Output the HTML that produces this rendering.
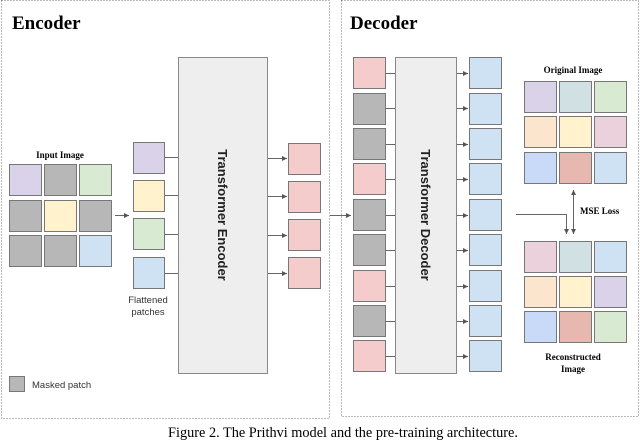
<!DOCTYPE html>
<html><head><meta charset="utf-8"><style>
html,body{margin:0;padding:0;background:#fff;width:640px;height:440px;overflow:hidden}
svg{display:block}
.s{font-family:"Liberation Serif",serif}
.a{font-family:"Liberation Sans",sans-serif}
</style></head><body>
<svg width="640" height="440" viewBox="0 0 640 440" xmlns="http://www.w3.org/2000/svg">
<defs><marker id="ar" markerWidth="6" markerHeight="6" refX="5" refY="3" orient="auto"><path d="M0,0.5 L5,3 L0,5.5z" fill="#555"/></marker></defs>
<rect x="1.5" y="0.5" width="328" height="418" fill="none" stroke="#777" stroke-dasharray="1,2"/>
<rect x="341.5" y="0.5" width="297" height="416" fill="none" stroke="#777" stroke-dasharray="1,2"/>
<text x="12" y="29" class="s" font-size="19" font-weight="bold">Encoder</text>
<text x="350" y="29" class="s" font-size="19" font-weight="bold">Decoder</text>
<g stroke="#888" stroke-width="1">
<rect x="178.5" y="57.5" width="89" height="316" fill="#eee"/>
<rect x="395.5" y="57.5" width="61" height="316" fill="#eee"/>
</g>
<text transform="translate(218,215) rotate(90)" text-anchor="middle" class="a" font-size="13" font-weight="bold" fill="#222">Transformer Encoder</text>
<text transform="translate(421,215) rotate(90)" text-anchor="middle" class="a" font-size="13" font-weight="bold" fill="#222">Transformer Decoder</text>
<text x="60" y="158" text-anchor="middle" class="s" font-size="9" font-weight="bold">Input Image</text>
<g stroke="#777" stroke-width="1">
<rect x="9.5" y="164.5" width="32" height="31" fill="#d9d2e9"/>
<rect x="44.5" y="164.5" width="32" height="31" fill="#b7b7b7"/>
<rect x="79.5" y="164.5" width="32" height="31" fill="#d9ead3"/>
<rect x="9.5" y="200.5" width="32" height="31" fill="#b7b7b7"/>
<rect x="44.5" y="200.5" width="32" height="31" fill="#fff2cc"/>
<rect x="79.5" y="200.5" width="32" height="31" fill="#b7b7b7"/>
<rect x="9.5" y="235.5" width="32" height="31" fill="#b7b7b7"/>
<rect x="44.5" y="235.5" width="32" height="31" fill="#b7b7b7"/>
<rect x="79.5" y="235.5" width="32" height="31" fill="#cfe2f3"/>
<rect x="133.5" y="142.5" width="31" height="31" fill="#d9d2e9"/>
<rect x="133.5" y="180.5" width="31" height="31" fill="#fff2cc"/>
<rect x="133.5" y="218.5" width="31" height="31" fill="#d9ead3"/>
<rect x="133.5" y="257.5" width="31" height="31" fill="#cfe2f3"/>
<rect x="288.5" y="143.5" width="32" height="31" fill="#f4cccc"/>
<rect x="288.5" y="181.5" width="32" height="31" fill="#f4cccc"/>
<rect x="288.5" y="219.5" width="32" height="31" fill="#f4cccc"/>
<rect x="288.5" y="257.5" width="32" height="31" fill="#f4cccc"/>
<rect x="9.5" y="376.5" width="15" height="15" fill="#b7b7b7"/>
</g>
<g stroke="#666" stroke-width="1" fill="none">
<line x1="115" y1="215.5" x2="129" y2="215.5" marker-end="url(#ar)"/>
<line x1="165" y1="157.5" x2="178" y2="157.5"/>
<line x1="165" y1="195.5" x2="178" y2="195.5"/>
<line x1="165" y1="234.5" x2="178" y2="234.5"/>
<line x1="165" y1="273.5" x2="178" y2="273.5"/>
<line x1="268" y1="158.5" x2="287" y2="158.5" marker-end="url(#ar)"/>
<line x1="268" y1="196.5" x2="287" y2="196.5" marker-end="url(#ar)"/>
<line x1="268" y1="235.5" x2="287" y2="235.5" marker-end="url(#ar)"/>
<line x1="268" y1="273.5" x2="287" y2="273.5" marker-end="url(#ar)"/>
<line x1="330" y1="215.5" x2="351" y2="215.5" marker-end="url(#ar)"/>
</g>
<text x="148" y="303" text-anchor="middle" class="a" font-size="9.5" fill="#333">Flattened</text>
<text x="148" y="315" text-anchor="middle" class="a" font-size="9.5" fill="#333">patches</text>
<text x="32" y="388" class="a" font-size="9.5" fill="#333">Masked patch</text>
<g stroke="#777" stroke-width="1">
<rect x="353.5" y="57.5" width="32" height="31" fill="#f4cccc"/>
<rect x="353.5" y="93.5" width="32" height="31" fill="#b7b7b7"/>
<rect x="353.5" y="128.5" width="32" height="31" fill="#b7b7b7"/>
<rect x="353.5" y="163.5" width="32" height="31" fill="#f4cccc"/>
<rect x="353.5" y="199.5" width="32" height="31" fill="#b7b7b7"/>
<rect x="353.5" y="234.5" width="32" height="31" fill="#b7b7b7"/>
<rect x="353.5" y="270.5" width="32" height="31" fill="#f4cccc"/>
<rect x="353.5" y="305.5" width="32" height="31" fill="#b7b7b7"/>
<rect x="353.5" y="340.5" width="32" height="31" fill="#f4cccc"/>
<rect x="469.5" y="57.5" width="32" height="31" fill="#cfe2f3"/>
<rect x="469.5" y="93.5" width="32" height="31" fill="#cfe2f3"/>
<rect x="469.5" y="128.5" width="32" height="31" fill="#cfe2f3"/>
<rect x="469.5" y="163.5" width="32" height="31" fill="#cfe2f3"/>
<rect x="469.5" y="199.5" width="32" height="31" fill="#cfe2f3"/>
<rect x="469.5" y="234.5" width="32" height="31" fill="#cfe2f3"/>
<rect x="469.5" y="270.5" width="32" height="31" fill="#cfe2f3"/>
<rect x="469.5" y="305.5" width="32" height="31" fill="#cfe2f3"/>
<rect x="469.5" y="340.5" width="32" height="31" fill="#cfe2f3"/>
</g>
<g stroke="#666" stroke-width="1" fill="none">
<path d="M386 73.5H395M386 108.5H395M386 144.5H395M386 179.5H395M386 215.5H395M386 250.5H395M386 286.5H395M386 321.5H395M386 356.5H395"/>
<line x1="457" y1="73.5" x2="468" y2="73.5" marker-end="url(#ar)"/>
<line x1="457" y1="108.5" x2="468" y2="108.5" marker-end="url(#ar)"/>
<line x1="457" y1="144.5" x2="468" y2="144.5" marker-end="url(#ar)"/>
<line x1="457" y1="179.5" x2="468" y2="179.5" marker-end="url(#ar)"/>
<line x1="457" y1="215.5" x2="468" y2="215.5" marker-end="url(#ar)"/>
<line x1="457" y1="250.5" x2="468" y2="250.5" marker-end="url(#ar)"/>
<line x1="457" y1="286.5" x2="468" y2="286.5" marker-end="url(#ar)"/>
<line x1="457" y1="321.5" x2="468" y2="321.5" marker-end="url(#ar)"/>
<line x1="457" y1="356.5" x2="468" y2="356.5" marker-end="url(#ar)"/>
<path d="M516 214.5H566.5V234" marker-end="url(#ar)"/>
<line x1="573.5" y1="230" x2="573.5" y2="190" marker-end="url(#ar)"/>
<line x1="573.5" y1="200" x2="573.5" y2="234" marker-end="url(#ar)"/>
</g>
<text x="573" y="73" text-anchor="middle" class="s" font-size="9" font-weight="bold">Original Image</text>
<text x="580" y="214" class="s" font-size="9" font-weight="bold">MSE Loss</text>
<text x="573" y="360" text-anchor="middle" class="s" font-size="9" font-weight="bold">Reconstructed</text>
<text x="573" y="372" text-anchor="middle" class="s" font-size="9" font-weight="bold">Image</text>
<g stroke="#777" stroke-width="1">
<rect x="524.5" y="81.5" width="32" height="31" fill="#d9d2e9"/>
<rect x="559.5" y="81.5" width="32" height="31" fill="#d0e0e3"/>
<rect x="594.5" y="81.5" width="32" height="31" fill="#d9ead3"/>
<rect x="524.5" y="116.5" width="32" height="31" fill="#fce5cd"/>
<rect x="559.5" y="116.5" width="32" height="31" fill="#fff2cc"/>
<rect x="594.5" y="116.5" width="32" height="31" fill="#ead1dc"/>
<rect x="524.5" y="152.5" width="32" height="31" fill="#c9daf8"/>
<rect x="559.5" y="152.5" width="32" height="31" fill="#e6b8af"/>
<rect x="594.5" y="152.5" width="32" height="31" fill="#cfe2f3"/>
<rect x="524.5" y="241.5" width="32" height="31" fill="#ead1dc"/>
<rect x="559.5" y="241.5" width="32" height="31" fill="#d0e0e3"/>
<rect x="594.5" y="241.5" width="32" height="31" fill="#cfe2f3"/>
<rect x="524.5" y="276.5" width="32" height="31" fill="#fce5cd"/>
<rect x="559.5" y="276.5" width="32" height="31" fill="#fff2cc"/>
<rect x="594.5" y="276.5" width="32" height="31" fill="#d9d2e9"/>
<rect x="524.5" y="311.5" width="32" height="31" fill="#c9daf8"/>
<rect x="559.5" y="311.5" width="32" height="31" fill="#e6b8af"/>
<rect x="594.5" y="311.5" width="32" height="31" fill="#d9ead3"/>
</g>
<text x="343" y="437" text-anchor="middle" class="s" font-size="14.3">Figure 2. The Prithvi model and the pre-training architecture.</text>
</svg>
</body></html>
